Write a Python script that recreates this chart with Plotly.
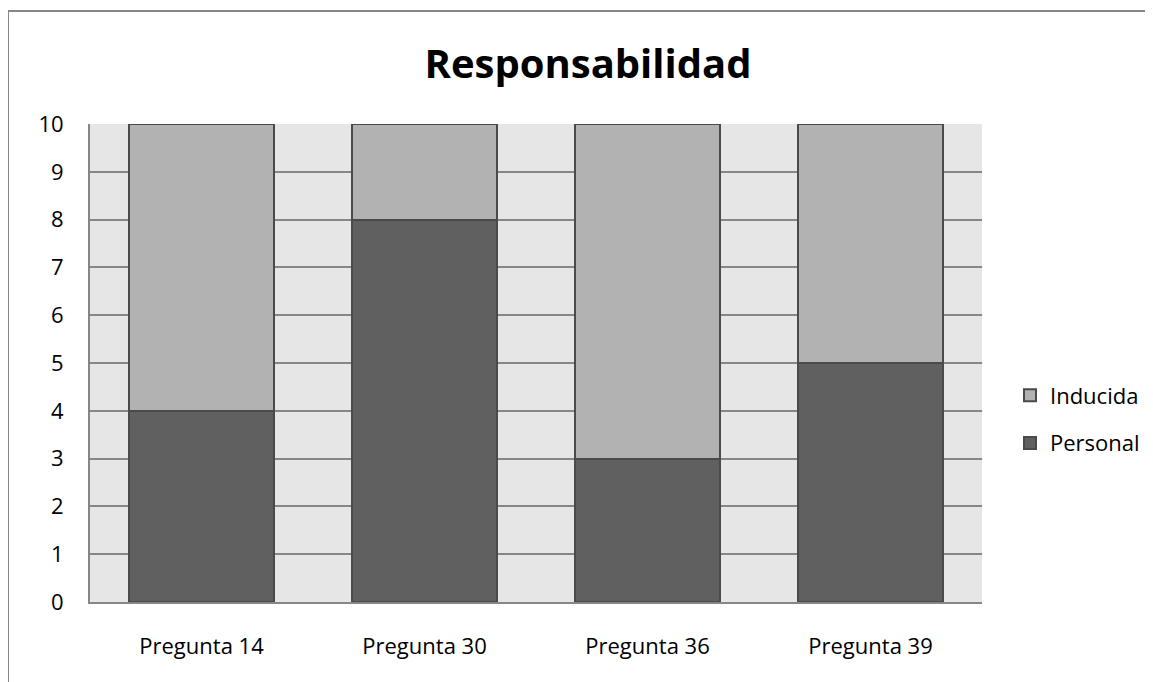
import plotly.graph_objects as go

categories = ["Pregunta 14", "Pregunta 30", "Pregunta 36", "Pregunta 39"]
personal = [4, 8, 3, 5]
inducida = [6, 2, 7, 5]
y_ticks = list(range(0, 11))

# page body has an 8px margin, so figure coords = page coords - 8
OFF = 8
W, H = 1153 - OFF, 682 - OFF
L, T = 90 - OFF, 124 - OFF
plot_r, plot_b = 982 - OFF, 602 - OFF
R, B = W - plot_r, H - plot_b
pw, ph = W - L - R, H - T - B

FONT = "Open Sans"

fig = go.Figure()
fig.add_trace(go.Bar(
    x=categories, y=personal, name="Personal", legendgroup="p", legendrank=2,
    marker=dict(color="#606060", line=dict(color="#4a4a4a", width=2)),
))
fig.add_trace(go.Bar(
    x=categories, y=inducida, name="Inducida", legendgroup="i", legendrank=1,
    marker=dict(color="#b2b2b2", line=dict(color="#4a4a4a", width=2)),
))

def px_x(x):
    return (x - OFF - L) / pw

def px_y(y):
    return (plot_b - (y - OFF)) / ph

fig.update_layout(
    width=W, height=H,
    margin=dict(l=L, r=R, t=T, b=B, autoexpand=False),
    barmode="stack",
    bargap=0.35,
    paper_bgcolor="white",
    plot_bgcolor="#e6e6e6",
    font=dict(family=FONT, size=22, color="black"),
    title=dict(text="<b>Responsabilidad</b>", x=((427 + 749) / 2 - OFF) / W, xanchor="center",
               y=1 - (64 - OFF) / H, yanchor="middle", font=dict(size=40, family=FONT)),
    legend=dict(traceorder="grouped", x=px_x(1010), xanchor="left",
                y=px_y(419.5), yanchor="middle",
                font=dict(size=22), itemsizing="constant", tracegroupgap=16,
                bgcolor="rgba(0,0,0,0)"),
    xaxis=dict(showgrid=False, showline=True, linecolor="#868686", linewidth=2,
               ticks="", tickfont=dict(size=22), ticklabelstandoff=24),
    yaxis=dict(range=[0, 10], tickvals=y_ticks, showgrid=True, gridcolor="#868686", gridwidth=2,
               showline=True, linecolor="#868686", linewidth=2, zeroline=False,
               ticks="", tickfont=dict(size=22), ticklabelstandoff=20),
    shapes=[dict(type="rect", xref="paper", yref="paper",
                 x0=px_x(8), y0=px_y(720), x1=px_x(1200), y1=px_y(11),
                 line=dict(color="#878787", width=2), layer="below")],
)

fig.write_html("out.html")
